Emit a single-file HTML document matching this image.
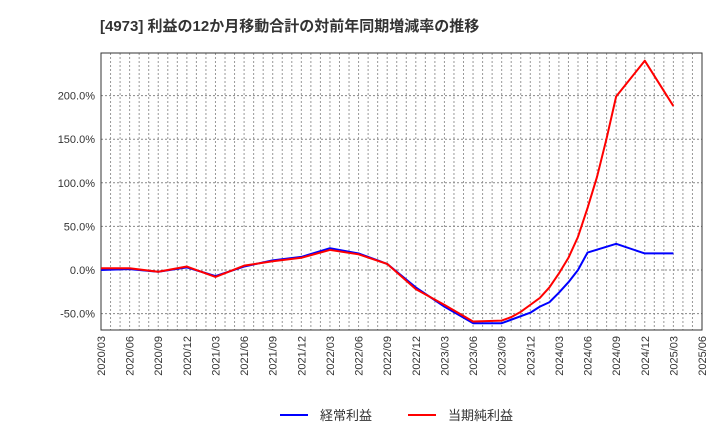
<!DOCTYPE html>
<html><head><meta charset="utf-8"><style>
body{margin:0;background:#fff;font-family:"Liberation Sans","Noto Sans CJK JP",sans-serif}
</style></head><body>
<svg id="chart" width="720" height="440" xmlns="http://www.w3.org/2000/svg">
<text x="100" y="31" font-size="15" font-weight="bold" fill="#333" font-family="Liberation Sans, Noto Sans CJK JP, sans-serif">[4973]  利益の12か月移動合計の対前年同期増減率の推移</text>
<g id="grid"></g><g id="axes"></g><g id="series"></g>
<g>
<line x1="280" y1="415" x2="308" y2="415" stroke="#0000ff" stroke-width="2"/>
<text x="320" y="420" font-size="13" fill="#333">経常利益</text>
<line x1="408" y1="415" x2="436" y2="415" stroke="#ff0000" stroke-width="2"/>
<text x="448" y="420" font-size="13" fill="#333">当期純利益</text>
</g>
</svg>
<script>
const categories=["2020/03","2020/06","2020/09","2020/12","2021/03","2021/06","2021/09","2021/12","2022/03","2022/06","2022/09","2022/12","2023/03","2023/06","2023/09","2023/12","2024/03","2024/06","2024/09","2024/12","2025/03","2025/06"];
const ordinaryDates=["2020/03","2020/06","2020/09","2020/12","2021/03","2021/06","2021/09","2021/12","2022/03","2022/06","2022/09","2022/12","2023/03","2023/06","2023/09","2023/12","2024/01","2024/02","2024/03","2024/04","2024/05","2024/06","2024/09","2024/12","2025/03"];
const ordinaryValues=[0,1,-2,3,-7,4,11,15,25,19,7,-20,-42,-61,-61,-49,-42,-37,-26,-14,0,20,30,19,19];
const netDates=["2020/03","2020/06","2020/09","2020/12","2021/03","2021/06","2021/09","2021/12","2022/03","2022/06","2022/09","2022/12","2023/03","2023/06","2023/09","2023/10","2023/11","2023/12","2024/01","2024/02","2024/03","2024/04","2024/05","2024/06","2024/07","2024/08","2024/09","2024/12","2025/03"];
const netValues=[2,2,-2,4,-8,5,10,14,23,18,7,-22,-40,-59,-58,-54,-48,-40,-32,-20,-4,14,38,71,107,151,199,240,188];
const yTicks=[-50,0,50,100,150,200];
const yTickLabels=["-50.0%","0.0%","50.0%","100.0%","150.0%","200.0%"];
const L=101,R=702,T=53,B=330;
const ns="http://www.w3.org/2000/svg";
const totalMonths=(categories.length-1)*3;
function monthIdx(d){const [y,m]=d.split('/').map(Number);return (y-2020)*12+(m-3);}
const xM=m=>L+(R-L)*m/totalMonths;
const xS=i=>xM(i*3);
const yS=v=>270-v*(43.6/50);
function mk(tag,attrs,parent){const e=document.createElementNS(ns,tag);for(const k in attrs)e.setAttribute(k,attrs[k]);parent.appendChild(e);return e;}
const grid=document.getElementById('grid'),axes=document.getElementById('axes'),series=document.getElementById('series');
for(let m=1;m<totalMonths;m++){
 const x=xM(m);
 const l=mk('line',{x1:x,x2:x,y1:T,y2:B,stroke:'#999','stroke-dasharray':'2,2','stroke-width':1},grid);
 
 
}
categories.forEach((c,i)=>{
 const x=xS(i);
 const t=mk('text',{transform:`translate(${x+4},${B+6}) rotate(-90)`,'text-anchor':'end','font-size':11,fill:'#333'},axes);
 t.textContent=c;
 
 
});
[...yTicks,250].forEach((v,i)=>{
 const y=yS(v);
 if(y<T)return;
 const l=mk('line',{x1:L,x2:R,y1:y,y2:y,stroke:'#888','stroke-dasharray':'2,2','stroke-width':1},grid);
 
 
});
yTicks.forEach((v,i)=>{
 const t=mk('text',{x:L-6,y:yS(v)+4,'text-anchor':'end','font-size':11,fill:'#333'},axes);
 t.textContent=yTickLabels[i];
 
 
});
const frame=mk('rect',{x:L,y:T,width:R-L,height:B-T,fill:'none',stroke:'#333','stroke-width':1},axes);


function line(dates,vals,color,name){
 const p=mk('polyline',{points:vals.map((v,i)=>xM(monthIdx(dates[i]))+','+yS(v)).join(' '),fill:'none',stroke:color,'stroke-width':2,'stroke-linejoin':'round'},series);
 
 
}
line(ordinaryDates,ordinaryValues,'#0000ff','ordinary-profit-line');
line(netDates,netValues,'#ff0000','net-profit-line');
</script>
</body></html>
